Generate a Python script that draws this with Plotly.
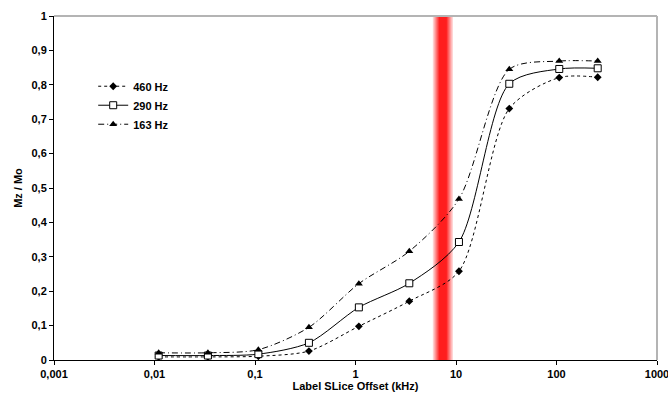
import plotly.graph_objects as go
import math

# ---- data ----
offset_khz = [0.011, 0.034, 0.108, 0.344, 1.08, 3.43, 10.7, 33.9, 106.5, 257]
mz_460 = [0.009, 0.009, 0.011, 0.026, 0.098, 0.171, 0.258, 0.731, 0.821, 0.822]
mz_290 = [0.013, 0.013, 0.017, 0.050, 0.153, 0.223, 0.343, 0.803, 0.846, 0.848]
mz_163 = [0.021, 0.021, 0.030, 0.095, 0.222, 0.316, 0.468, 0.845, 0.869, 0.869]
series_names = ["460 Hz", "290 Hz", "163 Hz"]

x_tickvals = [0.001, 0.01, 0.1, 1, 10, 100, 1000]
x_ticktext = ["0,001", "0,01", "0,1", "1", "10", "100", "1000"]
y_tickvals = [0, 0.1, 0.2, 0.3, 0.4, 0.5, 0.6, 0.7, 0.8, 0.9, 1]
y_ticktext = ["0", "0,1", "0,2", "0,3", "0,4", "0,5", "0,6", "0,7", "0,8", "0,9", "1"]

band_center_khz = 7.4

FONT = "Liberation Sans"

fig = go.Figure()

fig.add_trace(go.Scatter(
    x=offset_khz, y=mz_460, name=series_names[0], mode="lines+markers",
    line=dict(color="black", width=1, dash="dot", shape="spline", smoothing=0.8),
    marker=dict(symbol="diamond", size=6, color="black"),
))
fig.add_trace(go.Scatter(
    x=offset_khz, y=mz_290, name=series_names[1], mode="lines+markers",
    line=dict(color="black", width=1, shape="spline", smoothing=0.8),
    marker=dict(symbol="square", size=7, color="white", line=dict(color="black", width=1)),
))
fig.add_trace(go.Scatter(
    x=offset_khz, y=mz_163, name=series_names[2], mode="lines+markers",
    line=dict(color="black", width=1, dash="6px,3px,1px,3px", shape="spline", smoothing=0.8),
    marker=dict(symbol="triangle-up", size=7, color="black"),
))

# gradient red band (drawn as thin strips)
px_per_decade = 100.5
c = math.log10(band_center_khz)
shapes = []
for i in range(-10, 10):
    d = abs(i + 0.5)
    if d <= 3.5:
        a = 1.0
    else:
        a = max(0.12, 1.0 - (d - 3.5) / 6.5 * 0.88)
    g = int(round(255 * (1 - a)))
    shapes.append(dict(
        type="rect", xref="x", yref="paper",
        x0=10 ** (c + i / px_per_decade), x1=10 ** (c + (i + 1) / px_per_decade),
        y0=0, y1=1, fillcolor=f"rgb(255,{g},{g})", line=dict(width=0), layer="below",
    ))
# gray top and right frame
shapes.append(dict(type="line", xref="paper", yref="paper", x0=0, x1=1, y0=1, y1=1,
                   line=dict(color="#b4b4b4", width=2)))
shapes.append(dict(type="line", xref="paper", yref="paper", x0=1, x1=1, y0=0, y1=1,
                   line=dict(color="#b4b4b4", width=2)))

fig.update_layout(
    width=668, height=403,
    margin=dict(l=54, r=11, t=16, b=43, autoexpand=False),
    paper_bgcolor="white", plot_bgcolor="white",
    font=dict(family=FONT, size=11, color="black", weight="bold"),
    shapes=shapes,
    showlegend=True,
    legend=dict(x=0.065, y=0.838, xanchor="left", yanchor="top",
                bgcolor="rgba(0,0,0,0)", font=dict(size=11, weight="bold"),
                itemwidth=30, tracegroupgap=0),
    xaxis=dict(
        type="log", range=[-3, 3], automargin=False,
        tickvals=x_tickvals, ticktext=x_ticktext,
        ticklabeloverflow="allow",
        showgrid=False, zeroline=False,
        showline=True, linecolor="black", linewidth=1,
        ticks="outside", ticklen=4, tickcolor="black",
        title=dict(text="Label SLice Offset (kHz)", font=dict(size=11, weight="bold"), standoff=0),
    ),
    yaxis=dict(
        range=[0, 1], automargin=False,
        tickvals=y_tickvals, ticktext=y_ticktext,
        showgrid=False, zeroline=False,
        showline=True, linecolor="black", linewidth=1,
        ticks="outside", ticklen=4, tickcolor="black",
        title=dict(text="Mz / Mo", font=dict(size=11, weight="bold"), standoff=6),
    ),
)

fig.write_html(
    "out.html",
    config={"displayModeBar": False},
    post_script="document.body.style.margin='0';document.body.style.overflow='hidden';",
)
